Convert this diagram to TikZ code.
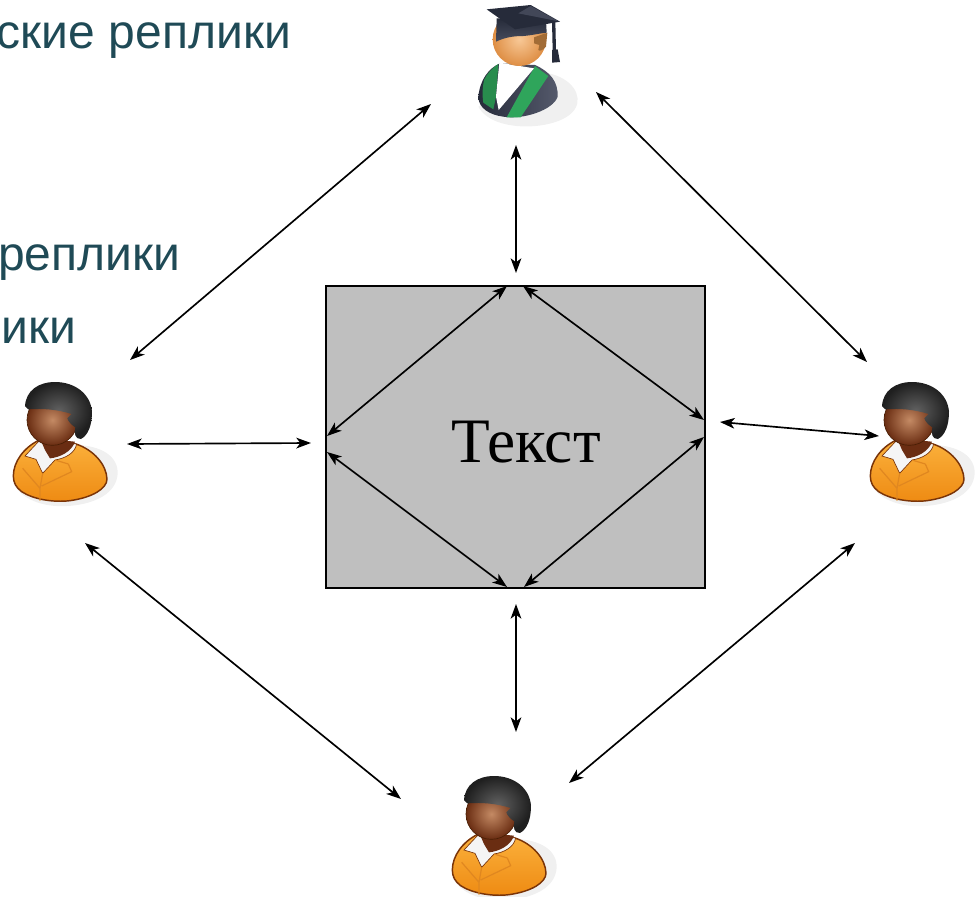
\documentclass[tikz,border=0pt]{standalone}
\usepackage{fontspec}
\setmainfont{Liberation Sans}
\newfontfamily\serifcyr{Liberation Serif}
\usetikzlibrary{arrows.meta}
\definecolor{slidetext}{HTML}{1F4A56}
\definecolor{orangeA}{HTML}{FBB13C}
\definecolor{orangeB}{HTML}{EE8A12}
\definecolor{brownline}{HTML}{7A3408}
\definecolor{skinL}{HTML}{C48A64}
\definecolor{skinD}{HTML}{6A2D12}
\definecolor{studskinL}{HTML}{F8C896}
\definecolor{studskinD}{HTML}{DE8E44}
\definecolor{slate}{HTML}{555A6C}
\definecolor{slateD}{HTML}{262B3A}
\definecolor{gown}{HTML}{2FA55B}
\tikzset{
  link/.style={draw=black,line width=1.25pt,{Stealth[length=11pt,width=8pt,inset=3pt]}-{Stealth[length=11pt,width=8pt,inset=3pt]}},
  slide/.style={anchor=base west,text=slidetext,font=\fontsize{36}{36}\selectfont,inner sep=0pt},
  studentpic/.pic={
    \fill[black!6] (230,215) .. controls (320,220) and (360,270) .. (352,310) .. controls (340,365) and (240,385) .. (170,378) .. controls (110,372) and (70,350) .. (55,320) -- cycle;
    \path[left color=slateD,right color=slate] (55,290) .. controls (60,240) and (85,205) .. (120,190) -- (225,195) .. controls (270,215) and (295,245) .. (293,290) .. controls (280,330) and (190,360) .. (130,350) .. controls (90,345) and (55,325) .. (55,290) -- cycle;
    \fill[gown!85!black] (72,240) .. controls (82,220) and (95,205) .. (115,192) -- (108,290) -- (100,328) -- (70,308) .. controls (66,285) and (68,260) .. (72,240) -- cycle;
    \fill[gown] (225,198) -- (265,228) -- (182,352) -- (140,352) -- cycle;
    \fill[white] (118,188) -- (222,205) -- (116,330) -- (108,290) -- cycle;
    \shade[inner color=studskinL,outer color=studskinD] (178,118) circle[radius=80];
    \fill[brown!85!black] (222,112) -- (262,98) -- (258,140) .. controls (250,150) and (238,155) .. (235,150) -- (238,135) -- (222,130) -- cycle;
    \path[top color=slateD,bottom color=slate!70!slateD] (110,55) -- (108,125) .. controls (135,112) and (160,108) .. (190,108) .. controls (215,106) and (240,100) .. (260,98) -- (258,60) -- cycle;
    \fill[slateD] (80,28) -- (212,15) -- (300,65) -- (165,88) -- cycle;
    \fill[slate!60!slateD] (175,40) -- (212,18) -- (296,64) -- cycle;
    \fill[slateD] (276,65) -- (286,63) -- (288,150) -- (278,150) -- cycle;
    \fill[slateD] (276,150) -- (293,148) -- (300,186) -- (276,188) -- cycle;
  },
  personpic/.pic={
    \fill[black!6] (235,225) .. controls (320,230) and (360,270) .. (352,320) .. controls (340,390) and (240,412) .. (170,408) .. controls (110,405) and (60,380) .. (40,340) -- cycle;
    \path[top color=orangeA,bottom color=orangeB,draw=brownline,line width=1.1pt] (40,318) .. controls (40,275) and (72,232) .. (118,210) -- (228,222) .. controls (282,240) and (320,285) .. (321,328) .. controls (320,355) and (280,382) .. (210,392) .. controls (160,398) and (100,388) .. (65,365) .. controls (48,352) and (40,338) .. (40,318) -- cycle;
    \fill[white!92!gray,draw=brownline,line width=.5pt] (118,212) -- (75,258) -- (108,268) -- (128,310) -- (165,270) .. controls (195,265) and (225,250) .. (230,222) -- cycle;
    \fill[skinD] (120,205) -- (225,215) .. controls (215,245) and (180,262) .. (150,265) -- (135,240) -- cycle;
    \draw[orangeB!70!brown,line width=.9pt] (68,295) -- (120,355) -- (128,310) (205,282) -- (165,270) (205,282) -- (215,305) -- (125,348) (120,355) -- (120,392);
    \shade[inner color=skinL,outer color=skinD,draw=brownline!60!black,line width=.5pt] (157,150) circle[radius=76];
    \shade[inner color=black!62,outer color=black!88] (75,108) .. controls (78,62) and (115,36) .. (165,36) .. controls (225,36) and (272,72) .. (276,125) .. controls (276,165) and (265,195) .. (243,207) .. controls (225,208) and (222,190) .. (226,172) .. controls (215,165) and (205,155) .. (202,145) -- (215,132) .. controls (170,118) and (130,115) .. (85,118) -- cycle;
  }
}
\begin{document}
\begin{tikzpicture}[x=.75pt,y=-.75pt]
\useasboundingbox (0,0) rectangle (976,897);
\clip (0,0) rectangle (976,897);
\node[slide] (t1) at (-55,48) {ческие реплики};
\node[slide] (t2) at (-2,270) {реплики};
\node[slide] (t3) at (-106,343) {реплики};
\node[draw=black,line width=1.25pt,fill=black!25,minimum width=284.25pt,minimum height=226.5pt,inner sep=0pt,outer sep=0pt] (box) at (515.5,437) {};
\node[font=\serifcyr\fontsize{47.5}{47.5}\selectfont,inner sep=0pt,anchor=base] (lbl) at (526,462) {Текст};
\pic (student) at (460,0) [scale=1/3] {studentpic};
\pic (pleft) at (0,370) [scale=1/3] {personpic};
\pic (pright) at (857,370) [scale=1/3] {personpic};
\pic (pbottom) at (439,764) [scale=1/3] {personpic};
\foreach \n/\x/\y in {a1/431/104,a2/130/360,b1/596/92,b2/867/362,c1/516/145,c2/516/273,d1/127/444,d2/311/443,e1/720/422,e2/879/436,f1/516/604,f2/516/732,g1/85/543,g2/401/799,h1/855/543,h2/569/783,i1/507/286,i2/327/436,j1/523/286,j2/704/420,k1/327/452,k2/507/587,l1/704/437,l2/524/587}
  \coordinate (\n) at (\x,\y);
\foreach \p/\q in {a1/a2,b1/b2,c1/c2,d1/d2,e1/e2,f1/f2,g1/g2,h1/h2,i1/i2,j1/j2,k1/k2,l1/l2}
  \draw[link] (\p) -- (\q);
\end{tikzpicture}
\end{document}
